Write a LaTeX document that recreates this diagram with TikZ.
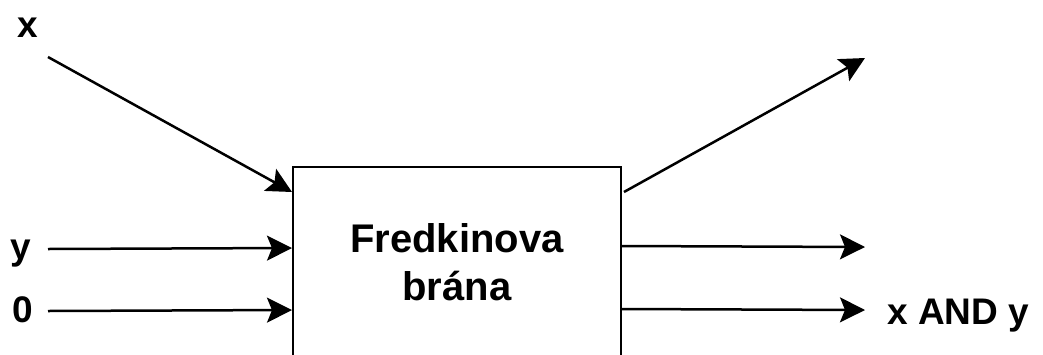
\documentclass[tikz,border=0pt]{standalone}
\usepackage{fontspec}
\setmainfont{Liberation Sans}
\usetikzlibrary{arrows.meta}
\tikzset{
  wire/.style={line width=2.5pt, -{Stealth[length=25pt, width=25pt, inset=5pt]}},
  gate/.style={draw, line width=2pt, minimum width=328pt, minimum height=190pt,
    inner sep=0pt, align=center, font=\bfseries\fontsize{40}{48}\selectfont},
  lbl/.style={inner sep=0pt, font=\bfseries\fontsize{37}{44}\selectfont}
}
\begin{document}
\begin{tikzpicture}[x=1pt, y=-1pt]
  \useasboundingbox (0,0) rectangle (1043,354);
  \clip (0,0) rectangle (1043,354);
  \fill[white] (0,0) rectangle (1043,354);

  % the gate itself
  \node[gate] (box) at (457,262) {Fredkinova\\brána};

  % points on the border of the gate
  \path (box.north west) ++(0,26) coordinate (inx);
  \path (box.north west) ++(0,82) coordinate (iny);
  \path (box.north west) ++(0,144) coordinate (in0);
  \path (box.north east) ++(2,26) coordinate (outa);
  \path (box.north east) ++(0,80) coordinate (outb);
  \path (box.north east) ++(0,143) coordinate (outc);

  % free ends of the wires
  \coordinate (sx) at (48,57);
  \coordinate (sy) at (48,249);
  \coordinate (s0) at (48,311);
  \coordinate (ea) at (865,58);
  \coordinate (eb) at (865,247);
  \coordinate (ec) at (865,310);

  % labels
  \node[lbl, anchor=base west] (lx) at (17,37) {x};
  \node[lbl, anchor=base west] (ly) at (10,259) {y};
  \node[lbl, anchor=base west] (l0) at (12,322) {0};
  \node[lbl, anchor=base west] (lout) at (887,324) {x AND y};

  % inputs
  \draw[wire] (sx) -- (inx);
  \draw[wire] (sy) -- (iny);
  \draw[wire] (s0) -- (in0);

  % outputs
  \draw[wire] (outa) -- (ea);
  \draw[wire] (outb) -- (eb);
  \draw[wire] (outc) -- (ec);
\end{tikzpicture}
\end{document}
